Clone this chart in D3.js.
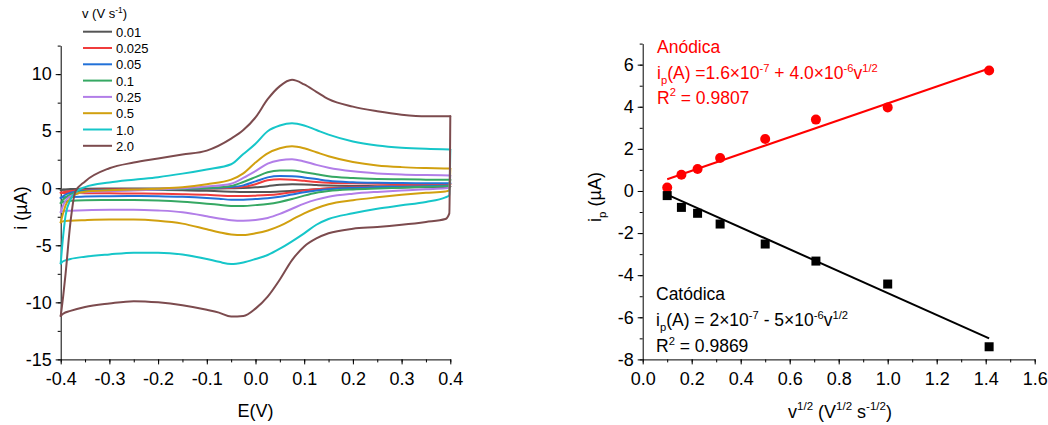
<!DOCTYPE html>
<html><head><meta charset="utf-8">
<script src="https://cdn.jsdelivr.net/npm/d3@7"></script>
<style>body{margin:0;background:#fff} svg{display:block} text{font-family:"Liberation Sans",Arial,sans-serif;white-space:pre}</style>
</head><body><svg id="c" width="1048" height="425"></svg>
<script>
// ---------- Left panel: cyclic voltammograms ----------
const scanRates = ["0.01","0.025","0.05","0.1","0.25","0.5","1.0","2.0"];
const cvColors = ["#555555","#f03c3c","#2271d8","#36a863","#b27ee8","#d1a00f","#16c6c9","#7c4b4e"];
const E_FWD = [-0.4,-0.395,-0.39,-0.38,-0.37,-0.35,-0.3,-0.25,-0.2,-0.15,-0.1,-0.05,-0.025,0,0.025,0.05,0.075,0.1,0.125,0.15,0.2,0.25,0.3,0.35,0.4];
const E_REV = [0.398,0.39,0.35,0.3,0.25,0.2,0.15,0.125,0.1,0.075,0.05,0.025,0,-0.025,-0.05,-0.075,-0.1,-0.15,-0.2,-0.25,-0.3,-0.35,-0.38,-0.395,-0.4];

const fwd001 = [-0.15,-0.12,-0.1,-0.07,-0.06,-0.05,-0.03,-0.03,-0.03,-0.03,-0.02,0.0,0.02,0.08,0.18,0.3,0.35,0.33,0.28,0.24,0.2,0.18,0.17,0.16,0.16];
const rev001 = [0.1,0.1,0.09,0.07,0.05,0.02,-0.03,-0.08,-0.15,-0.22,-0.28,-0.32,-0.33,-0.33,-0.3,-0.26,-0.22,-0.18,-0.15,-0.14,-0.13,-0.13,-0.13,-0.14,-0.15];
const fwd0025 = [-0.4,-0.35,-0.3,-0.25,-0.2,-0.15,-0.1,-0.08,-0.06,-0.03,0.0,0.05,0.12,0.35,0.7,0.78,0.75,0.65,0.55,0.48,0.43,0.4,0.37,0.35,0.35];
const rev0025 = [0.22,0.21,0.2,0.17,0.13,0.08,0.0,-0.08,-0.2,-0.35,-0.5,-0.6,-0.65,-0.68,-0.68,-0.63,-0.58,-0.52,-0.48,-0.46,-0.45,-0.43,-0.42,-0.41,-0.4];
const fwd005 = [-0.85,-0.7,-0.55,-0.4,-0.3,-0.22,-0.15,-0.12,-0.1,-0.06,0.0,0.1,0.25,0.6,0.95,1.07,1.05,0.95,0.8,0.65,0.52,0.47,0.45,0.44,0.44];
const rev005 = [0.22,0.21,0.18,0.14,0.1,0.04,-0.08,-0.2,-0.35,-0.55,-0.75,-0.88,-0.95,-1.0,-1.0,-0.92,-0.85,-0.75,-0.7,-0.68,-0.7,-0.73,-0.76,-0.8,-0.85];
const fwd01 = [-1.3,-1.0,-0.8,-0.55,-0.4,-0.28,-0.2,-0.16,-0.12,-0.06,0.02,0.2,0.55,0.97,1.4,1.55,1.55,1.4,1.23,1.05,0.9,0.82,0.78,0.75,0.74];
const rev01 = [0.2,0.18,0.12,0.05,-0.02,-0.1,-0.25,-0.4,-0.65,-0.95,-1.2,-1.38,-1.48,-1.55,-1.55,-1.45,-1.35,-1.18,-1.08,-1.04,-1.03,-1.05,-1.1,-1.2,-1.3];
const fwd025 = [-2.1,-1.5,-1.1,-0.7,-0.5,-0.35,-0.25,-0.2,-0.12,0.0,0.15,0.4,0.9,1.5,2.15,2.45,2.55,2.35,2.05,1.8,1.48,1.3,1.2,1.15,1.12];
const rev025 = [0.05,0.0,-0.08,-0.2,-0.32,-0.48,-0.75,-1.0,-1.35,-1.8,-2.25,-2.6,-2.78,-2.85,-2.8,-2.65,-2.45,-2.1,-1.95,-1.88,-1.88,-1.92,-1.97,-2.0,-2.1];
const fwd05 = [-3.0,-2.2,-1.5,-0.9,-0.55,-0.3,-0.18,-0.12,-0.04,0.08,0.35,0.75,1.3,2.25,3.05,3.5,3.68,3.5,3.15,2.8,2.3,2.0,1.85,1.77,1.72];
const rev05 = [-0.2,-0.28,-0.4,-0.58,-0.8,-1.05,-1.4,-1.75,-2.2,-2.75,-3.3,-3.7,-3.95,-4.1,-4.05,-3.85,-3.6,-3.1,-2.85,-2.75,-2.75,-2.8,-2.85,-2.9,-3.0];
const fwd10 = [-6.6,-4.2,-2.4,-1.0,-0.35,0.1,0.5,0.75,0.97,1.28,1.65,2.1,3.0,3.9,5.0,5.5,5.7,5.5,5.1,4.7,4.1,3.75,3.55,3.45,3.4];
const rev10 = [-0.6,-0.8,-1.2,-1.5,-1.8,-2.2,-2.7,-3.2,-3.95,-4.65,-5.3,-5.85,-6.2,-6.5,-6.65,-6.45,-6.2,-5.8,-5.65,-5.65,-5.8,-6.0,-6.2,-6.4,-6.6];
const fwd20 = [-11.2,-9.5,-7.5,-3.0,-0.3,0.6,1.75,2.25,2.6,2.95,3.3,4.35,5.1,6.2,7.8,8.95,9.5,9.1,8.45,7.8,7.15,6.75,6.45,6.3,6.3];
const rev20 = [-2.2,-2.7,-2.95,-3.2,-3.4,-3.55,-3.95,-4.4,-5.1,-6.3,-8.0,-9.5,-10.55,-11.2,-11.25,-10.9,-10.65,-10.25,-10.0,-9.9,-10.1,-10.4,-10.75,-11.0,-11.2];
const cvFwd = [fwd001,fwd0025,fwd005,fwd01,fwd025,fwd05,fwd10,fwd20];
const cvRev = [rev001,rev0025,rev005,rev01,rev025,rev05,rev10,rev20];

const leftXTicks = [-0.4,-0.3,-0.2,-0.1,0.0,0.1,0.2,0.3,0.4];
const leftYTicks = [-15,-10,-5,0,5,10];

// ---------- Right panel: peak current vs sqrt(v) ----------
const sqrtV = [0.1,0.158,0.224,0.316,0.5,0.707,1.0,1.414];
const ipAnodic = [0.16,0.77,1.04,1.57,2.47,3.39,3.97,5.72];
const ipCathodic = [-0.22,-0.78,-1.06,-1.57,-2.52,-3.33,-4.42,-7.40];
const fitRange = [0.1,1.414];
const fitAnodic = [0.16,4.0];     // intercept, slope (µA)
const fitCathodic = [0.35,-5.2];  // intercept, slope (µA)
const rightXTicks = [0,0.2,0.4,0.6,0.8,1.0,1.2,1.4,1.6];
const rightYTicks = [-8,-6,-4,-2,0,2,4,6];

const svg = d3.select("#c");
const FONT = 18;

function rich(parent, x, y, parts, size, color, anchor, transform) {
  const t = parent.append("text").attr("x", x).attr("y", y)
    .attr("font-size", size).attr("fill", color || "#000")
    .attr("text-anchor", anchor || "start");
  if (transform) t.attr("transform", transform);
  let cur = 0;
  parts.forEach(([s, k]) => {
    const off = k === "sup" ? -0.42 * size : k === "sub" ? 0.3 * size : 0;
    t.append("tspan").attr("dy", off - cur)
      .attr("font-size", k ? size * 0.64 : size).text(s);
    cur = off;
  });
  return t;
}

function styleAxis(g) {
  g.selectAll("path.domain").attr("stroke", "#000").attr("stroke-width", 1);
  g.selectAll(".tick line").attr("stroke", "#000").attr("stroke-width", 1);
  g.selectAll("text").attr("font-size", FONT).attr("fill", "#000")
    .attr("font-family", "'Liberation Sans',Arial,sans-serif");
}

// ----- Left panel -----
const xL = d3.scaleLinear().domain([-0.4, 0.4]).range([60.7, 450.3]);
const yL = d3.scaleLinear().domain([-15, 12.5]).range([359.4, 45.6]);

const gxL = svg.append("g").attr("transform", `translate(0,${yL(-15)})`)
  .call(d3.axisBottom(xL).tickValues(d3.range(-0.4, 0.4001, 0.05)).tickSize(3).tickFormat("").tickSizeOuter(0));
styleAxis(gxL);
const gxL2 = svg.append("g").attr("transform", `translate(0,${yL(-15)})`)
  .call(d3.axisBottom(xL).tickValues(leftXTicks).tickSize(5).tickPadding(8).tickSizeOuter(0)
    .tickFormat(d => d.toFixed(1)));
styleAxis(gxL2); gxL2.select("path.domain").remove();

const gyL = svg.append("g").attr("transform", `translate(${xL(-0.4)},0)`)
  .call(d3.axisLeft(yL).tickValues(d3.range(-15, 12.6, 2.5)).tickSize(3).tickFormat("").tickSizeOuter(0));
styleAxis(gyL);
const gyL2 = svg.append("g").attr("transform", `translate(${xL(-0.4)},0)`)
  .call(d3.axisLeft(yL).tickValues(leftYTicks).tickSize(5).tickPadding(4).tickSizeOuter(0)
    .tickFormat(d => String(d)));
styleAxis(gyL2); gyL2.select("path.domain").remove();

// each branch is monotone in E: draw with monotone interpolation (no overshoot)
const cvLine = d3.line().x(d => xL(d[0])).y(d => yL(d[1])).curve(d3.curveMonotoneX);
scanRates.forEach((r, k) => {
  const f = E_FWD.map((e, j) => [e, cvFwd[k][j]]);
  const rv = [[E_FWD[E_FWD.length - 1], cvFwd[k][E_FWD.length - 1]]]
    .concat(E_REV.map((e, j) => [e, cvRev[k][j]])).reverse();
  const path = d3.path();
  const g = svg.append("g");
  [f, rv].forEach(pts => {
    g.append("path").datum(pts).attr("d", cvLine).attr("fill", "none")
      .attr("stroke", cvColors[k]).attr("stroke-width", 2).attr("stroke-linejoin", "round")
      .attr("stroke-linecap", "round");
  });
});

// legend
rich(svg, 82, 18, [["v (V s"], ["-1", "sup"], [")"]], 13, "#000");
scanRates.forEach((r, k) => {
  const yy = 31.7 + k * 16.3;
  svg.append("line").attr("x1", 83).attr("x2", 112).attr("y1", yy).attr("y2", yy)
    .attr("stroke", cvColors[k]).attr("stroke-width", 2);
  svg.append("text").attr("x", 116).attr("y", yy + 5).attr("font-size", 13).text(r);
});

svg.append("text").attr("x", 255.5).attr("y", 417).attr("text-anchor", "middle")
  .attr("font-size", FONT).text("E(V)");
svg.append("text").attr("transform", "translate(27,208) rotate(-90)").attr("text-anchor", "middle")
  .attr("font-size", FONT).text("i (µA)");

// ----- Right panel -----
const xR = d3.scaleLinear().domain([0, 1.6]).range([642.7, 1034.7]);
const yR = d3.scaleLinear().domain([-8, 7]).range([359.4, 43.6]);

const gxR = svg.append("g").attr("transform", `translate(0,${yR(-8)})`)
  .call(d3.axisBottom(xR).tickValues(d3.range(0, 1.601, 0.1)).tickSize(3).tickFormat("").tickSizeOuter(0));
styleAxis(gxR);
const gxR2 = svg.append("g").attr("transform", `translate(0,${yR(-8)})`)
  .call(d3.axisBottom(xR).tickValues(rightXTicks).tickSize(5).tickPadding(8).tickSizeOuter(0)
    .tickFormat(d => d.toFixed(1)));
styleAxis(gxR2); gxR2.select("path.domain").remove();

const gyR = svg.append("g").attr("transform", `translate(${xR(0)},0)`)
  .call(d3.axisLeft(yR).tickValues(d3.range(-8, 7.01, 1)).tickSize(3).tickFormat("").tickSizeOuter(0));
styleAxis(gyR);
const gyR2 = svg.append("g").attr("transform", `translate(${xR(0)},0)`)
  .call(d3.axisLeft(yR).tickValues(rightYTicks).tickSize(5).tickPadding(4).tickSizeOuter(0)
    .tickFormat(d => String(d)));
styleAxis(gyR2); gyR2.select("path.domain").remove();

// fit lines
[[fitAnodic, "#ff0000"], [fitCathodic, "#000000"]].forEach(([f, c]) => {
  svg.append("line")
    .attr("x1", xR(fitRange[0])).attr("y1", yR(f[0] + f[1] * fitRange[0]))
    .attr("x2", xR(fitRange[1])).attr("y2", yR(f[0] + f[1] * fitRange[1]))
    .attr("stroke", c).attr("stroke-width", 2);
});
// markers
svg.append("g").selectAll("circle").data(sqrtV).join("circle")
  .attr("cx", d => xR(d)).attr("cy", (d, i) => yR(ipAnodic[i])).attr("r", 5).attr("fill", "#ff0000");
svg.append("g").selectAll("rect").data(sqrtV).join("rect")
  .attr("x", d => xR(d) - 4.5).attr("y", (d, i) => yR(ipCathodic[i]) - 4.5)
  .attr("width", 9).attr("height", 9).attr("fill", "#000");

// annotations
const AF = 17.5;
svg.append("text").attr("x", 657).attr("y", 52.5).attr("font-size", AF).attr("fill", "#ff0000").text("Anódica");
rich(svg, 657, 79, [["i"], ["p", "sub"], ["(A) =1.6×10"], ["-7", "sup"], [" + 4.0×10"], ["-6", "sup"], ["v"], ["1/2", "sup"]], AF, "#ff0000");
rich(svg, 657, 103.5, [["R"], ["2", "sup"], [" = 0.9807"]], AF, "#ff0000");

svg.append("text").attr("x", 656).attr("y", 300).attr("font-size", AF).attr("fill", "#000").text("Catódica");
rich(svg, 656, 326, [["i"], ["p", "sub"], ["(A) = 2×10"], ["-7", "sup"], [" - 5×10"], ["-6", "sup"], ["v"], ["1/2", "sup"]], AF, "#000");
rich(svg, 656, 352, [["R"], ["2", "sup"], [" = 0.9869"]], AF, "#000");

rich(svg, 840, 418, [["v"], ["1/2", "sup"], [" (V"], ["1/2", "sup"], [" s"], ["-1/2", "sup"], [")"]], FONT, "#000", "middle");
rich(svg, 0, 0, [["i"], ["p", "sub"], [" (µA)"]], FONT, "#000", "middle", "translate(601,197) rotate(-90)");
</script></body></html>
